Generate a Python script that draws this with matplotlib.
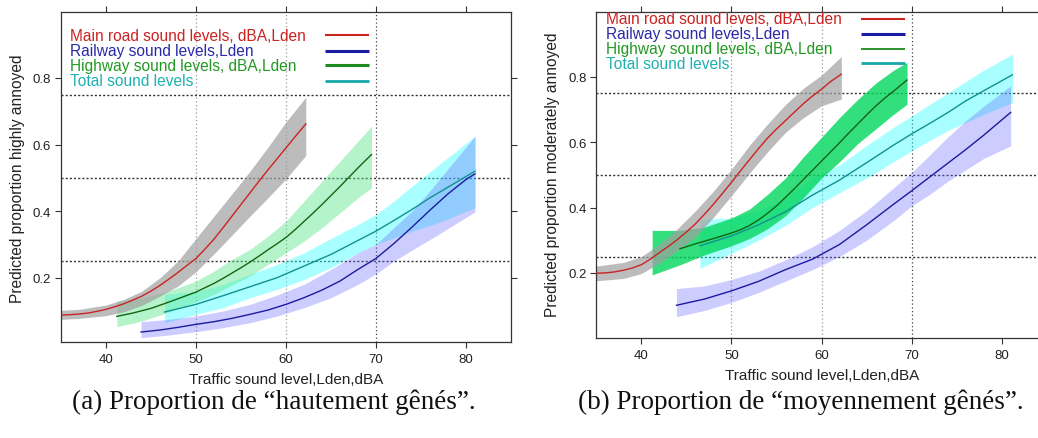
import matplotlib
matplotlib.use("Agg")
import matplotlib.pyplot as plt

# ---------------- data: panel (a) highly annoyed ----------------
a_main_x = [35, 36, 37, 38, 39, 40, 41, 42, 43, 44, 45, 46, 47, 48, 49, 50, 51, 52, 53, 54, 55, 56, 57, 58, 59, 60, 61, 62.2]
a_main_y = [0.088, 0.089, 0.091, 0.094, 0.099, 0.105, 0.113, 0.122, 0.133, 0.145, 0.160, 0.177, 0.196, 0.216, 0.237,
            0.258, 0.286, 0.316, 0.350, 0.385, 0.420, 0.455, 0.490, 0.524, 0.557, 0.590, 0.623, 0.662]
a_main_band_x = [35, 37, 40, 42, 44, 46, 48, 50, 52, 54, 56, 58, 60, 62.2]
a_main_lo = [0.075, 0.078, 0.086, 0.098, 0.117, 0.145, 0.175, 0.218, 0.272, 0.328, 0.385, 0.440, 0.497, 0.567]
a_main_hi = [0.102, 0.105, 0.118, 0.135, 0.160, 0.200, 0.250, 0.318, 0.385, 0.452, 0.520, 0.592, 0.668, 0.742]

a_hwy_x = [41.2, 43, 45, 47, 49, 50, 51, 52, 53, 54, 55, 56, 57, 58, 59, 60, 61, 62, 63, 64, 65, 66, 67, 68, 69.5]
a_hwy_y = [0.084, 0.094, 0.108, 0.127, 0.147, 0.157, 0.170, 0.183, 0.198, 0.214, 0.230, 0.247, 0.265, 0.284, 0.302,
           0.321, 0.344, 0.369, 0.394, 0.420, 0.447, 0.474, 0.502, 0.530, 0.570]
a_hwy_band_x = [41.2, 44, 47, 50, 52, 54, 56, 58, 60, 62, 64, 66, 68, 69.5]
a_hwy_lo = [0.053, 0.070, 0.097, 0.128, 0.150, 0.178, 0.205, 0.240, 0.275, 0.310, 0.350, 0.395, 0.440, 0.470]
a_hwy_hi = [0.130, 0.140, 0.160, 0.190, 0.220, 0.255, 0.285, 0.325, 0.370, 0.430, 0.490, 0.550, 0.610, 0.655]

a_tot_x = [46.5, 50, 53, 56, 59, 62, 65, 68, 70, 72, 74, 76, 78, 81]
a_tot_y = [0.097, 0.120, 0.146, 0.173, 0.200, 0.235, 0.270, 0.312, 0.340, 0.372, 0.405, 0.440, 0.472, 0.520]
a_tot_lo = [0.065, 0.090, 0.110, 0.140, 0.165, 0.195, 0.230, 0.275, 0.300, 0.320, 0.340, 0.357, 0.377, 0.410]
a_tot_hi = [0.150, 0.158, 0.180, 0.210, 0.240, 0.275, 0.318, 0.360, 0.390, 0.430, 0.475, 0.518, 0.561, 0.625]

a_rail_x = [43.9, 46, 48, 50, 52, 54, 56, 58, 60, 62, 64, 66, 68, 70, 72, 74, 76, 78, 80, 81]
a_rail_y = [0.037, 0.043, 0.051, 0.060, 0.068, 0.078, 0.090, 0.103, 0.120, 0.140, 0.163, 0.190, 0.225, 0.258,
            0.303, 0.352, 0.403, 0.452, 0.495, 0.512]
a_rail_band_x = [43.9, 47, 50, 53, 56, 59, 62, 65, 68, 70, 72, 74, 76, 78, 81]
a_rail_lo = [0.020, 0.028, 0.038, 0.050, 0.065, 0.085, 0.110, 0.140, 0.180, 0.212, 0.250, 0.283, 0.315, 0.348, 0.398]
a_rail_hi = [0.068, 0.075, 0.085, 0.100, 0.120, 0.148, 0.180, 0.225, 0.275, 0.300, 0.351, 0.400, 0.461, 0.527, 0.625]

# ---------------- data: panel (b) moderately annoyed ----------------
b_main_x = [35, 36, 37, 38, 39, 40, 41, 42, 43, 44, 45, 46, 47, 48, 49, 50, 51, 52, 53, 54, 55, 56, 57, 58, 59, 60, 61, 62.2]
b_main_y = [0.199, 0.200, 0.203, 0.208, 0.215, 0.225, 0.242, 0.262, 0.281, 0.302, 0.325, 0.350, 0.379, 0.410, 0.443,
            0.477, 0.512, 0.546, 0.580, 0.612, 0.640, 0.666, 0.692, 0.718, 0.741, 0.762, 0.785, 0.808]
b_main_band_x = [35, 38, 40, 42, 44, 46, 48, 50, 52, 54, 56, 58, 60, 62.2]
b_main_lo = [0.176, 0.183, 0.198, 0.230, 0.268, 0.310, 0.370, 0.436, 0.505, 0.570, 0.630, 0.675, 0.711, 0.732]
b_main_hi = [0.221, 0.232, 0.250, 0.288, 0.335, 0.390, 0.450, 0.517, 0.590, 0.655, 0.715, 0.765, 0.805, 0.862]

b_hwy_band_x = [41.2, 44.3, 47, 50, 52, 54, 56, 58, 60, 62, 64, 66, 68, 69.5]
b_hwy_lo = [0.194, 0.225, 0.255, 0.283, 0.305, 0.335, 0.375, 0.430, 0.490, 0.540, 0.595, 0.640, 0.685, 0.716]
b_hwy_hi = [0.330, 0.330, 0.340, 0.368, 0.395, 0.440, 0.490, 0.555, 0.615, 0.675, 0.730, 0.780, 0.820, 0.844]
b_hwy_x = [44.3, 46, 48, 50, 51, 52, 53, 54, 55, 56, 57, 58, 59, 60, 61, 62, 63, 64, 65, 66, 67, 68, 69.5]
b_hwy_y = [0.274, 0.289, 0.305, 0.322, 0.332, 0.345, 0.362, 0.382, 0.405, 0.431, 0.458, 0.486, 0.514, 0.542,
           0.570, 0.598, 0.627, 0.655, 0.683, 0.710, 0.734, 0.756, 0.790]

b_tot_x = [46.5, 50, 53, 56, 59, 62, 65, 68, 70, 72, 74, 76, 78, 81.2]
b_tot_y = [0.283, 0.313, 0.347, 0.387, 0.438, 0.484, 0.537, 0.591, 0.625, 0.657, 0.690, 0.726, 0.757, 0.806]
b_tot_lo = [0.214, 0.260, 0.300, 0.345, 0.400, 0.445, 0.490, 0.540, 0.573, 0.605, 0.635, 0.660, 0.685, 0.721]
b_tot_hi = [0.364, 0.368, 0.390, 0.430, 0.490, 0.530, 0.590, 0.645, 0.680, 0.715, 0.750, 0.785, 0.820, 0.869]

b_rail_x = [43.9, 47, 50, 53, 56, 59, 62, 65, 68, 70, 72, 74, 76, 78, 81]
b_rail_y = [0.101, 0.120, 0.145, 0.174, 0.210, 0.242, 0.287, 0.347, 0.410, 0.451, 0.493, 0.535, 0.577, 0.621, 0.691]
b_rail_lo = [0.066, 0.085, 0.110, 0.140, 0.175, 0.210, 0.250, 0.300, 0.360, 0.405, 0.440, 0.480, 0.515, 0.550, 0.589]
b_rail_hi = [0.152, 0.160, 0.180, 0.205, 0.240, 0.280, 0.330, 0.390, 0.460, 0.507, 0.560, 0.615, 0.665, 0.710, 0.772]

legend_labels = ["Main road sound levels, dBA,Lden", "Railway sound levels,Lden",
                 "Highway sound levels, dBA,Lden", "Total sound levels"]
x_ticks = [40, 50, 60, 70, 80]
y_ticks = [0.2, 0.4, 0.6, 0.8]
ref_h = [0.25, 0.5, 0.75]
ref_v = [50, 60, 70]
x_label = "Traffic sound level,Lden,dBA"
y_label_a = "Predicted proportion highly annoyed"
y_label_b = "Predicted proportion moderately annoyed"
caption_a = "(a) Proportion de \u201chautement g\u00ean\u00e9s\u201d."
caption_b = "(b) Proportion de \u201cmoyennement g\u00ean\u00e9s\u201d."

# ---------------- styling ----------------
plt.rcParams['font.family'] = ['Liberation Sans', 'DejaVu Sans']
W, H = 1038, 439
fig = plt.figure(figsize=(W / 100, H / 100), dpi=100)

def fx(px):
    return px / W

def fy(py):
    return 1 - py / H

text_cols = ['#cc2222', '#2a2aa8', '#229922', '#1fb0b0']
leg_line_cols = ['#cc2222', '#1c1ca0', '#1e8a1e', '#16a8a8']
line_cols = ['#cc2222', '#1c1c9c', '#146414', '#139090']

def setup_axes(ax, ylim):
    ax.set_xlim(35, 85)
    ax.set_ylim(*ylim)
    ax.set_xticks(x_ticks)
    ax.set_yticks(y_ticks)
    ax.set_yticklabels([f"{v:.1f}" for v in y_ticks])
    ax.tick_params(direction='out', length=4, width=0.8, color='#333333',
                   labelsize=9.5, labelcolor='#222222', top=True, right=True,
                   labeltop=False, labelright=False)
    ax.tick_params(axis='x', pad=4)
    ax.tick_params(axis='y', pad=3)
    for s in ax.spines.values():
        s.set_color('#333333')
        s.set_linewidth(0.9)
    for v in ref_v:
        col = '#444444' if v == 70 else '#999999'
        ax.axvline(v, color=col, lw=0.9, ls=(0, (1, 2)), zorder=1)
    for h in ref_h:
        ax.axhline(h, color='#333333', lw=1.0, ls=(0, (1.5, 1.5)), zorder=1)

def legend(ax, x_text, ys, x0, x1, lws):
    for lab, y, tc, lc, lw in zip(legend_labels, ys, text_cols, leg_line_cols, lws):
        ax.text(x_text, y, lab, color=tc, fontsize=11.2, va='center', ha='left',
                transform=ax.transAxes, zorder=6)
        ax.plot([x0, x1], [y, y], color=lc, lw=lw, transform=ax.transAxes,
                solid_capstyle='butt', zorder=6)

# ---------- panel (a) ----------
axa = fig.add_axes([fx(61), fy(343), fx(511) - fx(61), fy(13) - fy(343)])
setup_axes(axa, (0.007, 0.998))
axa.fill_between(a_tot_x, a_tot_lo, a_tot_hi, color='#33ffff', alpha=0.42, lw=0, zorder=2)
axa.fill_between(a_rail_band_x, a_rail_lo, a_rail_hi, color='#6666ff', alpha=0.33, lw=0, zorder=2)
axa.fill_between(a_hwy_band_x, a_hwy_lo, a_hwy_hi, color='#5ce68a', alpha=0.45, lw=0, zorder=2)
axa.fill_between(a_main_band_x, a_main_lo, a_main_hi, color='#a0a0a0', alpha=0.7, lw=0, zorder=2)
axa.plot(a_main_x, a_main_y, color=line_cols[0], lw=1.0, zorder=4)
axa.plot(a_rail_x, a_rail_y, color=line_cols[1], lw=1.0, zorder=4)
axa.plot(a_hwy_x, a_hwy_y, color=line_cols[2], lw=1.0, zorder=4)
axa.plot(a_tot_x, a_tot_y, color=line_cols[3], lw=1.0, zorder=4)
legend(axa, 0.02, [0.930, 0.883, 0.838, 0.792], 0.587, 0.684, [1.5, 2.2, 2.2, 2.0])

# ---------- panel (b) ----------
axb = fig.add_axes([fx(596.3), fy(339.3), fx(1046.7) - fx(596.3), fy(12.7) - fy(339.3)])
setup_axes(axb, (0.0, 0.999))
axb.fill_between(b_tot_x, b_tot_lo, b_tot_hi, color='#33ffff', alpha=0.42, lw=0, zorder=2)
axb.fill_between(b_rail_x, b_rail_lo, b_rail_hi, color='#6666ff', alpha=0.33, lw=0, zorder=2)
axb.fill_between(b_hwy_band_x, b_hwy_lo, b_hwy_hi, color='#00d65c', alpha=0.8, lw=0, zorder=2)
axb.fill_between(b_main_band_x, b_main_lo, b_main_hi, color='#a0a0a0', alpha=0.7, lw=0, zorder=2)
axb.plot(b_main_x, b_main_y, color=line_cols[0], lw=1.0, zorder=4)
axb.plot(b_rail_x, b_rail_y, color=line_cols[1], lw=1.0, zorder=4)
axb.plot(b_hwy_x, b_hwy_y, color=line_cols[2], lw=1.0, zorder=4)
axb.plot(b_tot_x, b_tot_y, color=line_cols[3], lw=1.0, zorder=4)
legend(axb, 0.0215, [0.978, 0.933, 0.886, 0.842], 0.587, 0.685, [1.5, 2.2, 1.3, 2.0])

# ---------- axis labels ----------
fig.text(fx(286), fy(380), x_label, ha='center', va='center', fontsize=11, color='#222222')
fig.text(fx(822.5), fy(376), x_label, ha='center', va='center', fontsize=11, color='#222222')
fig.text(fx(18), fy(179), y_label_a, ha='center', va='center', rotation=90, fontsize=11.2, color='#222222')
fig.text(fx(553), fy(175), y_label_b, ha='center', va='center', rotation=90, fontsize=11.2, color='#222222')

# ---------- captions ----------
fig.text(fx(274), fy(402), caption_a, ha='center', va='center', fontsize=19.5,
         family=['Liberation Serif', 'DejaVu Serif'], color='#111111')
fig.text(fx(801), fy(402), caption_b, ha='center', va='center', fontsize=19.5,
         family=['Liberation Serif', 'DejaVu Serif'], color='#111111')

fig.savefig('out.png', dpi=100)
